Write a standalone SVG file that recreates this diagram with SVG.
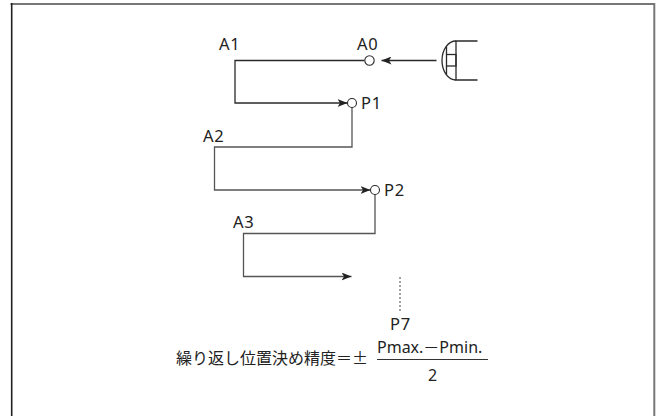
<svg xmlns="http://www.w3.org/2000/svg" width="659" height="416" viewBox="0 0 659 416">
<style>
.lbl{font-family:"Noto Sans","Liberation Sans",sans-serif;font-size:16.5px;fill:#222;letter-spacing:0.8px}
.fx{font-family:"Noto Sans","Noto Sans CJK JP",sans-serif;font-size:16px;fill:#222}
.jp{font-family:"Noto Sans CJK JP",sans-serif;font-size:16px;fill:#222}
.ln{fill:none;stroke:#2a2a2a;stroke-width:1.3}
.lg{fill:none;stroke:#555;stroke-width:1.3}
.pt{fill:#fff;stroke:#2a2a2a;stroke-width:1.1}
</style>
<defs>
<marker id="ah" viewBox="0 0 10 8" refX="10" refY="4" markerWidth="10" markerHeight="8" markerUnits="userSpaceOnUse" orient="auto">
<path d="M0,0 L10,4 L0,8 L2.5,4 z" fill="#222"/>
</marker>
</defs>
<rect width="659" height="416" fill="#fff"/>
<g id="frame">
<line x1="10.5" y1="4" x2="655" y2="4" stroke="#777" stroke-width="2"/>
<line x1="11.7" y1="3" x2="11.7" y2="416" stroke="#222" stroke-width="1.6"/>
<line x1="654.3" y1="3" x2="654.3" y2="416" stroke="#777" stroke-width="2"/>
</g>
<g id="connectors">
<path class="ln" d="M364.5,60.5 H235 V103 H347.5" marker-end="url(#ah)"/>
<path class="lg" d="M352,107.5 V147 H214.5 V190 H370.5" marker-end="url(#ah)"/>
<path class="lg" d="M375,194.5 V233.5 H243.5 V276.5 H351.5" marker-end="url(#ah)"/>
<path class="ln" d="M436.5,60.5 H381.5" marker-end="url(#ah)"/>
<line x1="400" y1="277" x2="400" y2="313" stroke="#444" stroke-width="1" stroke-dasharray="2,2"/>
</g>
<g id="sensor">
<path class="ln" d="M456,41 A14,19.5 0 0 0 456,80"/>
<path class="ln" d="M477.5,41 H456 V80 H477.5"/>
<rect x="446.5" y="54.5" width="9.5" height="11.5" class="ln"/>
<path class="ln" d="M446.5,46.5 V54.5 M446.5,66 V74.5"/>
</g>
<g id="A0"><circle class="pt" cx="369.5" cy="60.5" r="4.7"/><text class="lbl" x="357" y="50">A0</text></g>
<g id="A1"><text class="lbl" x="219" y="50">A1</text></g>
<g id="P1"><circle class="pt" cx="352" cy="103" r="4.5"/><text class="lbl" x="361" y="109">P1</text></g>
<g id="A2"><text class="lbl" x="203" y="142">A2</text></g>
<g id="P2"><circle class="pt" cx="375" cy="190" r="4.5"/><text class="lbl" x="384" y="196">P2</text></g>
<g id="A3"><text class="lbl" x="233" y="228">A3</text></g>
<g id="P7"><text class="lbl" x="390" y="330">P7</text></g>
<g id="formula">
<text class="jp" x="176" y="364">繰り返し位置決め精度＝±</text>
<text class="fx" x="377" y="353">Pmax.－Pmin.</text>
<line x1="377" y1="359.5" x2="488" y2="359.5" stroke="#333" stroke-width="1"/>
<text class="fx" x="432.5" y="381" text-anchor="middle">2</text>
</g>
</svg>
